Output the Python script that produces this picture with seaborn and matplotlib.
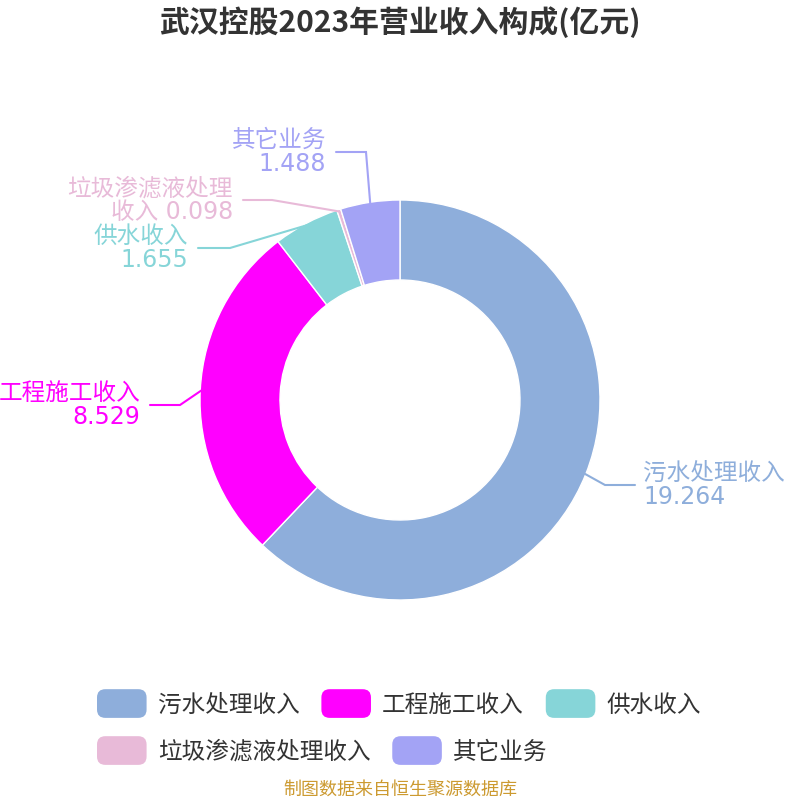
import numpy as np
import matplotlib
matplotlib.use('Agg')
import matplotlib.pyplot as plt
import seaborn as sns
from matplotlib.patches import Patch, FancyBboxPatch
from matplotlib.legend_handler import HandlerPatch

# data (亿元)
categories = ['污水处理收入', '工程施工收入', '供水收入', '垃圾渗滤液处理收入', '其它业务']
values = [19.264, 8.529, 1.655, 0.098, 1.488]
colors = ['#8eaedb', '#ff00ff', '#86d5d8', '#e8bad8', '#a3a3f5']
label_text = ['污水处理收入\n19.264', '工程施工收入\n8.529', '供水收入\n1.655',
              '垃圾渗滤液处理\n收入 0.098', '其它业务\n1.488']

# leader line layout (pixel space): elbow point, horizontal end x
elbows = [(605, 485), (180, 405), (230, 248), (272, 200), (366, 152)]
line_ends = [635, 150, 198, 243, 336]

sns.set_theme(style='white')
plt.rcParams['font.family'] = ['DejaVu Sans', 'Noto Sans CJK SC']
cjk = ['Noto Sans CJK SC', 'DejaVu Sans']

fig = plt.figure(figsize=(8, 8), dpi=100)
ax = fig.add_axes([0, 0, 1, 1])
ax.axis('off')

cx, cy, R = 400, 400, 200
wedges, _ = ax.pie(values, colors=colors, center=(cx, cy), radius=R,
                   startangle=-90, counterclock=True,
                   wedgeprops=dict(width=80, edgecolor='white', linewidth=1))
ax.set_xlim(0, 800)
ax.set_ylim(800, 0)
ax.set_aspect('equal')

total = sum(values)
cum = np.cumsum([0] + values[:-1])
for i, v in enumerate(values):
    th = np.deg2rad(-90 + 360 * (cum[i] + v / 2) / total)
    sx, sy = cx + (R - 2) * np.cos(th), cy + (R - 2) * np.sin(th)
    ex, ey = elbows[i]
    hx = line_ends[i]
    ax.plot([sx, ex, hx], [sy, ey, ey], color=colors[i], lw=1.5,
            solid_joinstyle='miter')
    right = hx > ex
    tx = hx + 8 if right else hx - 10
    ax.text(tx, ey, label_text[i], color=colors[i], fontsize=17,
            ha='left' if right else 'right', va='center',
            multialignment='left' if right else 'right', linespacing=0.98)

ax.text(400, 22, '武汉控股2023年营业收入构成(亿元)', fontsize=21.5, fontweight='bold',
        color='#333333', ha='center', va='center', family=cjk)
ax.text(400, 790, '制图数据来自恒生聚源数据库', fontsize=13, color='#cc9a30',
        ha='center', va='center', family=cjk)


class RoundHandler(HandlerPatch):
    def create_artists(self, legend, orig_handle, xdescent, ydescent,
                       width, height, fontsize, trans):
        p = FancyBboxPatch((-xdescent, -ydescent - 3), width, height + 6,
                           boxstyle='round,pad=0,rounding_size=6',
                           fc=orig_handle.get_facecolor(), ec='none',
                           transform=trans)
        return [p]


handles = [Patch(facecolor=c) for c in colors]
rows = [(0, 3, 705), (3, 5, 752)]
for a, b, y in rows:
    leg = fig.legend(handles[a:b], categories[a:b], ncol=b - a,
                     loc='center left', bbox_to_anchor=(97 / 800, 1 - y / 800),
                     frameon=False, fontsize=17, handlelength=2.1,
                     handleheight=0.95, handletextpad=0.47, columnspacing=0.93,
                     borderpad=0, borderaxespad=0,
                     handler_map={Patch: RoundHandler()})
    for t in leg.get_texts():
        t.set_color('#333333')
        t.set_family(cjk)

fig.savefig('out.png', dpi=100)
